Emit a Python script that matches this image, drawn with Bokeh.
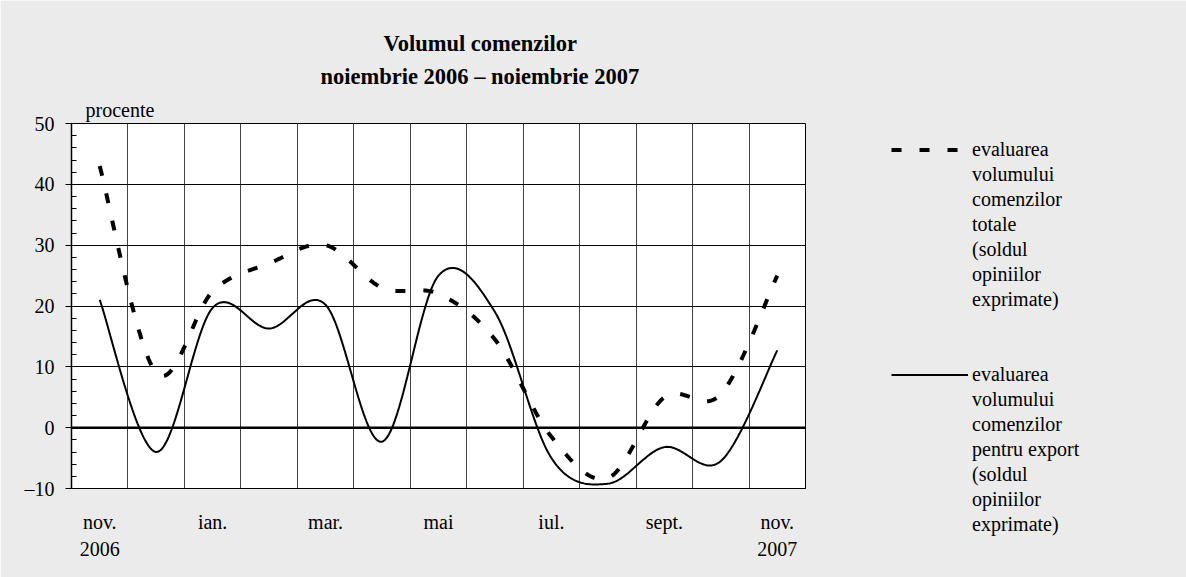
from bokeh.plotting import figure
from bokeh.models import (Range1d, FixedTicker, SingleIntervalTicker, Span, Title,
                          Legend, LegendItem)
from bokeh.embed import file_html
from bokeh.resources import INLINE

# ---- data ----
months = ["nov.", "dec.", "ian.", "feb.", "mar.", "apr.", "mai", "iun.",
          "iul.", "aug.", "sept.", "oct.", "nov."]
tick_labels = {0: "nov.\n2006", 2: "ian.", 4: "mar.", 6: "mai", 8: "iul.",
               10: "sept.", 12: "nov.\n2007"}
total = [43, 9, 22.4, 27, 30, 23, 22, 14.5, -1.5, -8.3, 5, 5.5, 25]
export = [21, -4, 19.7, 16.3, 20.2, -2.3, 25.0, 19, -5, -9.2, -3.2, -5.5, 12.7]
legend_total = ["evaluarea", "volumului", "comenzilor", "totale", "(soldul",
                "opiniilor", "exprimate)"]
legend_export = ["evaluarea", "volumului", "comenzilor", "pentru export",
                 "(soldul", "opiniilor", "exprimate)"]
title_lines = ["Volumul comenzilor", "noiembrie 2006 \u2013 noiembrie 2007"]
unit_label = "procente"

FONT = "Liberation Serif"
BG = "#ebebeb"


def smooth(ys, n=40):
    """Excel-like smoothed line: cubic Bezier through every point."""
    xs = [i + 0.5 for i in range(len(ys))]
    px, py = [], []
    N = len(ys)
    for i in range(N - 1):
        x0, y0 = (xs[i - 1], ys[i - 1]) if i > 0 else (xs[i], ys[i])
        x1, y1 = xs[i], ys[i]
        x2, y2 = xs[i + 1], ys[i + 1]
        x3, y3 = (xs[i + 2], ys[i + 2]) if i + 2 < N else (x2, y2)
        c1x, c1y = x1 + (x2 - x0) / 6, y1 + (y2 - y0) / 6
        c2x, c2y = x2 - (x3 - x1) / 6, y2 - (y3 - y1) / 6
        for k in range(n + (1 if i == N - 2 else 0)):
            t = k / n
            a, b, c, d = (1 - t) ** 3, 3 * (1 - t) ** 2 * t, 3 * (1 - t) * t ** 2, t ** 3
            px.append(a * x1 + b * c1x + c * c2x + d * x2)
            py.append(a * y1 + b * c1y + c * c2y + d * y2)
    return px, py


p = figure(frame_width=734, frame_height=365,
           x_range=Range1d(0, 13), y_range=Range1d(-10, 50),
           output_backend="svg", toolbar_location=None,
           min_border_left=71, min_border_right=381,
           min_border_top=123, min_border_bottom=89)
p.background_fill_color = "white"
p.border_fill_color = BG
p.outline_line_color = "black"
p.outline_line_width = 1

# titles stacked above the frame (first added = closest to the frame)
p.add_layout(Title(text=unit_label, align="left", offset=14, standoff=5,
                   text_font=FONT, text_font_size="20px", text_font_style="normal",
                   text_color="black"), "above")
p.add_layout(Title(text=title_lines[1], align="left", offset=249, standoff=12,
                   text_font=FONT, text_font_size="22.5px", text_font_style="bold",
                   text_color="black"), "above")
p.add_layout(Title(text=title_lines[0], align="left", offset=312, standoff=0,
                   text_font=FONT, text_font_size="22.5px", text_font_style="bold",
                   text_color="black"), "above")

# x axis
p.xaxis.ticker = FixedTicker(ticks=[k + 0.5 for k in tick_labels])
p.xaxis.major_label_overrides = {k + 0.5: v for k, v in tick_labels.items()}
p.xaxis.major_tick_in = 0
p.xaxis.major_tick_out = 0
p.xaxis.minor_tick_line_color = None
p.xaxis.axis_line_color = "black"
p.xaxis.major_label_standoff = 22
p.xaxis.major_label_text_font = FONT
p.xaxis.major_label_text_font_size = "20px"
p.xaxis.major_label_text_color = "black"
p.xaxis.major_label_text_line_height = 1.25

# y axis
p.yaxis.ticker = SingleIntervalTicker(interval=10, num_minor_ticks=5)
p.yaxis.major_label_overrides = {-10: "\u201310"}
p.yaxis.major_tick_in = 0
p.yaxis.major_tick_out = 6
p.yaxis.minor_tick_in = 5
p.yaxis.minor_tick_out = 0
p.yaxis.axis_line_color = "black"
p.yaxis.axis_line_width = 1.5
p.yaxis.major_tick_line_color = "black"
p.yaxis.minor_tick_line_color = "black"
p.yaxis.major_label_standoff = 11
p.yaxis.major_label_text_font = FONT
p.yaxis.major_label_text_font_size = "20px"
p.yaxis.major_label_text_color = "black"

# grids
p.xgrid.ticker = FixedTicker(ticks=list(range(1, 13)))
p.xgrid.grid_line_color = "#444444"
p.xgrid.grid_line_width = 1
p.ygrid.grid_line_color = "black"
p.ygrid.grid_line_width = 1

p.add_layout(Span(location=0, dimension="width", line_color="black", line_width=2.5))

tx, ty = smooth(total)
ex, ey = smooth(export)
r_total = p.line(tx, ty, line_color="black", line_width=4, line_dash="10 18")
r_export = p.line(ex, ey, line_color="black", line_width=2)
r_blank = p.line([], [], line_alpha=0)

# ---- legend: one row per text line ----
items = [LegendItem(label=legend_total[0], renderers=[r_total])]
items += [LegendItem(label=t, renderers=[r_blank]) for t in legend_total[1:]]
items += [LegendItem(label=" ", renderers=[r_blank]) for _ in range(2)]
items += [LegendItem(label=legend_export[0], renderers=[r_export])]
items += [LegendItem(label=t, renderers=[r_blank]) for t in legend_export[1:]]

legend = Legend(items=items, location=(86, -49), orientation="vertical",
                border_line_color=None, background_fill_alpha=0,
                padding=0, margin=0, spacing=0,
                glyph_width=77, glyph_height=25, label_height=25, label_standoff=4,
                label_text_font=FONT, label_text_font_size="20px",
                label_text_color="black")
p.add_layout(legend, "right")

open("out.html", "w").write(file_html(p, INLINE))
